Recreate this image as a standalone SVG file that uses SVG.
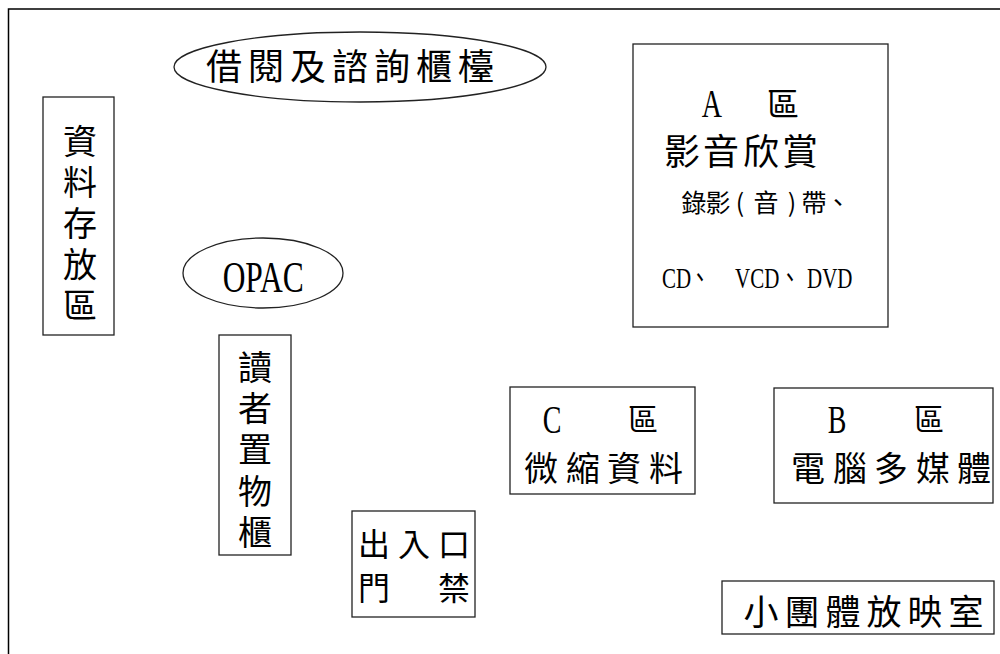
<svg xmlns="http://www.w3.org/2000/svg" width="1000" height="654" viewBox="0 0 1000 654">
<style>
.box{fill:#fff;stroke:#222;stroke-width:1.3}
.frame{fill:none;stroke:#000;stroke-width:1.5}
.cjk{font-family:"Noto Sans CJK TC","Noto Sans CJK SC",sans-serif;fill:#000;text-anchor:middle}
.lat{font-family:"Liberation Serif","Noto Sans CJK TC",serif;fill:#000}
</style>
<rect width="1000" height="654" fill="#fff"/>
<g id="frame">
<polyline class="frame" points="8.5,654 8.5,9 1000,9"/>
</g>
<g id="counter">
<ellipse class="box" cx="360" cy="67" rx="186" ry="35"/>
<text class="cjk" font-size="36" x="224 266 308 350 392 434 476" y="80">借閱及諮詢櫃檯</text>
</g>
<g id="storage">
<rect class="box" x="43" y="97" width="71" height="238"/>
<text class="cjk" font-size="34" x="80 80 80 80 80" y="154 195 236 277 318">資料存放區</text>
</g>
<g id="opac">
<ellipse class="box" cx="263" cy="273" rx="80" ry="35"/>
<text class="lat" font-size="45" text-anchor="middle" transform="scale(0.7,1)" x="376" y="292">OPAC</text>
</g>
<g id="lockers">
<rect class="box" x="219" y="335" width="72" height="220"/>
<text class="cjk" font-size="34" x="255 255 255 255 255" y="380 421 462 504 545">讀者置物櫃</text>
</g>
<g id="entrance">
<rect class="box" x="352" y="511" width="123" height="106"/>
<text class="cjk" font-size="32" x="374 414 454" y="556">出入口</text>
<text class="cjk" font-size="32" x="374 454" y="600">門禁</text>
</g>
<g id="zoneA">
<rect class="box" x="633" y="44" width="255" height="283"/>
<text class="lat" font-size="40" text-anchor="middle" transform="scale(0.7,1)" x="1017" y="117">A</text>
<text class="cjk" font-size="32" x="783" y="116">區</text>
<text class="cjk" font-size="36" x="682 721 761 800" y="165">影音欣賞</text>
<text class="cjk" font-size="25" x="694 718 740 766 792 814 838" y="212">錄影(音)帶、</text>
<text class="lat" font-size="30" transform="scale(0.7,1)" y="288"><tspan x="945.7">CD</tspan><tspan x="985">、 </tspan><tspan x="1050">VCD</tspan><tspan x="1113.6">、</tspan><tspan x="1152.9">DVD</tspan></text>
</g>
<g id="zoneC">
<rect class="box" x="510" y="387" width="185" height="107"/>
<text class="lat" font-size="40" text-anchor="middle" transform="scale(0.7,1)" x="788.6" y="433">C</text>
<text class="cjk" font-size="30" x="643" y="430">區</text>
<text class="cjk" font-size="34" x="541 583 624 666" y="481">微縮資料</text>
</g>
<g id="zoneB">
<rect class="box" x="774" y="388" width="219" height="115"/>
<text class="lat" font-size="40" text-anchor="middle" transform="scale(0.7,1)" x="1195.7" y="433">B</text>
<text class="cjk" font-size="30" x="929" y="430">區</text>
<text class="cjk" font-size="34" x="808 850 891 933 974" y="481">電腦多媒體</text>
</g>
<g id="screening">
<rect class="box" x="722" y="581" width="272" height="53"/>
<text class="cjk" font-size="35" x="761 802 843 884 925 966" y="625">小團體放映室</text>
</g>
<g id="connectors"></g>
</svg>
